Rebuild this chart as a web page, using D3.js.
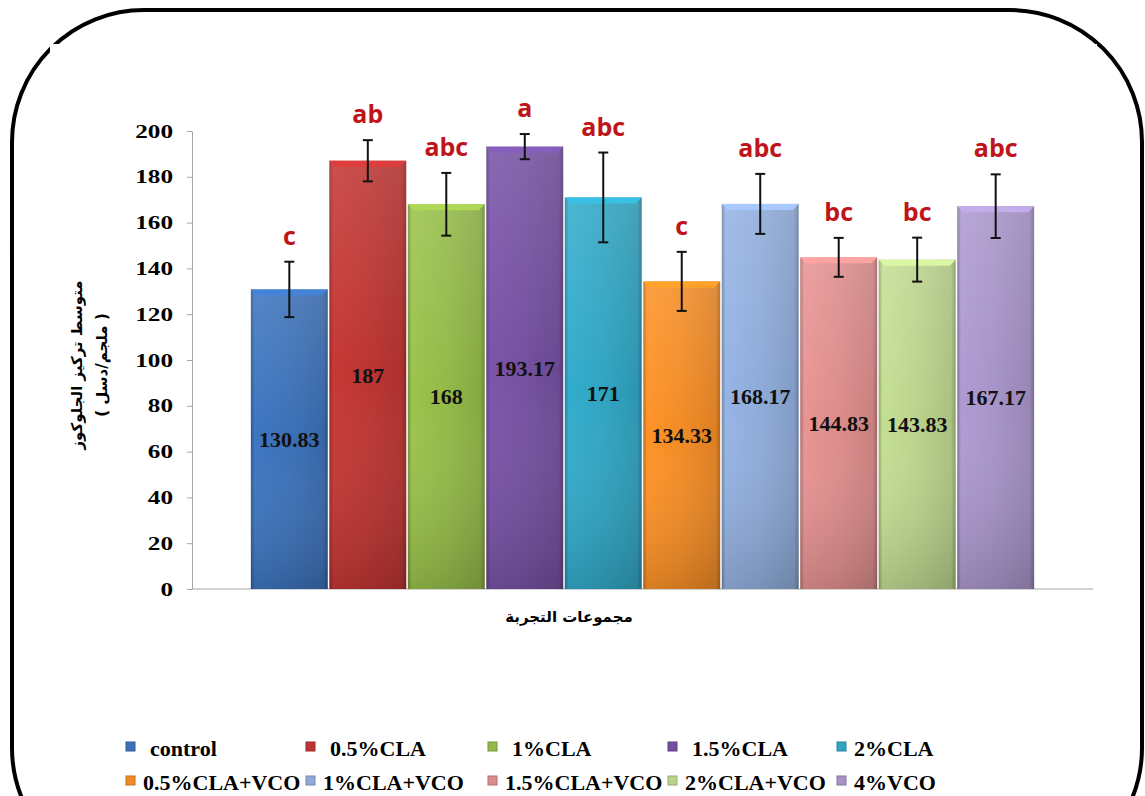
<html>
    <head>
        <meta charset='UTF-8'>
        <script src="https://d3js.org/d3.v7.min.js"></script>
        <style> body { margin: 0; background: #fff; } </style>
    </head>
    <body>
        <svg id="chart" width="1145" height="796"></svg>
        <script>
            //values
            const groups = ['control', '0.5%CLA', '1%CLA', '1.5%CLA', '2%CLA',
                            '0.5%CLA+VCO', '1%CLA+VCO', '1.5%CLA+VCO', '2%CLA+VCO', '4%VCO'];
            const means = [130.83, 187, 168, 193.17, 171, 134.33, 168.17, 144.83, 143.83, 167.17];
            const errors = [12.1, 9.0, 13.7, 5.5, 19.6, 12.9, 13.1, 8.5, 9.6, 13.9];
            const letters = ['c', 'ab', 'abc', 'a', 'abc', 'c', 'abc', 'bc', 'bc', 'abc'];
            const yTicks = [0, 20, 40, 60, 80, 100, 120, 140, 160, 180, 200];
            const yTitle = ['متوسط تركيز الجلوكوز', '( ملجم/دسل )'];
            const xTitle = 'مجموعات التجربة';

            //bar colours, one per group
            const palette = ['#3b70b7', '#bc3532', '#93b948', '#7450a0', '#30a4c2',
                             '#f28b25', '#8eabd9', '#dc8c8b', '#bad38c', '#a693c7'];

            let svg = d3.select('svg#chart');
            let margins = {top: 131, right: 1093, bottom: 589, left: 192};

            let color = d3.scaleOrdinal().domain(groups).range(palette);

            //frame: rounded border with the white chart area on top of it
            svg.append('rect')
               .attr('x', 12).attr('y', 10)
               .attr('width', 1130).attr('height', 870)
               .attr('rx', 132).attr('ry', 132)
               .attr('fill', 'none')
               .attr('stroke', '#000')
               .attr('stroke-width', 4);
            svg.append('rect')
               .attr('x', 50).attr('y', 44)
               .attr('width', 1047).attr('height', 760)
               .attr('fill', '#fff');

            //scales
            let x = d3.scaleBand()
                      .domain(groups)
                      .range([margins.left, margins.right])
                      .paddingInner(0.02)
                      .paddingOuter(0.75);
            let y = d3.scaleLinear()
                      .domain([0, 200])
                      .range([margins.bottom, margins.top]);

            //gradients for the bevelled bars
            let defs = svg.append('defs');
            groups.forEach((g, i) => {
                let c = d3.color(color(g));
                let grad = defs.append('linearGradient')
                               .attr('id', 'g' + i)
                               .attr('x1', '0').attr('x2', '1')
                               .attr('y1', '0').attr('y2', '0');
                grad.append('stop').attr('offset', '0%').attr('stop-color', c.darker(0.7));
                grad.append('stop').attr('offset', '5%').attr('stop-color', c.brighter(0.15));
                grad.append('stop').attr('offset', '50%').attr('stop-color', c);
                grad.append('stop').attr('offset', '94%').attr('stop-color', c.darker(0.25));
                grad.append('stop').attr('offset', '100%').attr('stop-color', c.darker(0.9));
            });
            let shade = defs.append('linearGradient')
                            .attr('id', 'shade')
                            .attr('x1', '0').attr('x2', '0')
                            .attr('y1', '0').attr('y2', '1');
            shade.append('stop').attr('offset', '0%').attr('stop-color', '#fff').attr('stop-opacity', 0.12);
            shade.append('stop').attr('offset', '50%').attr('stop-color', '#fff').attr('stop-opacity', 0);
            shade.append('stop').attr('offset', '100%').attr('stop-color', '#000').attr('stop-opacity', 0.15);

            //y axis
            let yAxis = svg.append('g')
                           .attr('transform', `translate(${margins.left},0)`)
                           .call(d3.axisLeft(y).tickValues(yTicks).tickSize(5).tickSizeOuter(0).tickPadding(14));
            yAxis.selectAll('path, line').attr('stroke', '#a6a6a6');
            yAxis.selectAll('text')
                 .attr('font-family', '"Liberation Serif", "Times New Roman", serif')
                 .attr('font-weight', 'bold')
                 .attr('font-size', 19)
                 .attr('fill', '#000')
                 .attr('textLength', d => String(d).length * 12.6)
                 .attr('lengthAdjust', 'spacingAndGlyphs');

            //x axis baseline
            svg.append('line')
               .attr('x1', x.range()[0]).attr('x2', x.range()[1])
               .attr('y1', y(0)).attr('y2', y(0))
               .attr('stroke', '#a6a6a6')
               .attr('stroke-width', 1);

            //bars
            let bars = svg.append('g');
            groups.forEach((g, i) => {
                let bx = x(g), bw = x.bandwidth(), top = y(means[i]), h = y(0) - y(means[i]);
                bars.append('rect')
                    .attr('x', bx).attr('y', top)
                    .attr('width', bw).attr('height', h)
                    .attr('fill', `url(#g${i})`);
                bars.append('rect')
                    .attr('x', bx).attr('y', top)
                    .attr('width', bw).attr('height', h)
                    .attr('fill', 'url(#shade)');
                //top bevel
                bars.append('path')
                    .attr('d', `M${bx},${top}L${bx + bw},${top}L${bx + bw - 6},${top + 6}L${bx + 6},${top + 6}Z`)
                    .attr('fill', d3.color(color(g)).brighter(0.45));
            });

            //error bars
            groups.forEach((g, i) => {
                let cx = x(g) + x.bandwidth() / 2;
                let eg = svg.append('g').attr('stroke', '#111').attr('stroke-width', 2);
                eg.append('line')
                  .attr('x1', cx).attr('x2', cx)
                  .attr('y1', y(means[i] + errors[i])).attr('y2', y(means[i] - errors[i]));
                eg.append('line')
                  .attr('x1', cx - 5).attr('x2', cx + 5)
                  .attr('y1', y(means[i] + errors[i])).attr('y2', y(means[i] + errors[i]));
                eg.append('line')
                  .attr('x1', cx - 5).attr('x2', cx + 5)
                  .attr('y1', y(means[i] - errors[i])).attr('y2', y(means[i] - errors[i]));
            });

            //value labels in the middle of each bar
            groups.forEach((g, i) => {
                svg.append('text')
                   .attr('x', x(g) + x.bandwidth() / 2)
                   .attr('y', (y(0) + y(means[i])) / 2)
                   .attr('dy', '0.35em')
                   .attr('text-anchor', 'middle')
                   .attr('font-family', '"Liberation Serif", "Times New Roman", serif')
                   .attr('font-weight', 'bold')
                   .attr('font-size', 22)
                   .attr('fill', '#111')
                   .text(means[i]);
            });

            //significance letters above the error bars
            groups.forEach((g, i) => {
                svg.append('text')
                   .attr('x', x(g) + x.bandwidth() / 2)
                   .attr('y', y(means[i] + errors[i]) - 17)
                   .attr('text-anchor', 'middle')
                   .attr('font-family', '"Open Sans", sans-serif')
                   .attr('font-weight', 'bold')
                   .attr('font-size', 25)
                   .attr('fill', '#c0141b')
                   .text(letters[i]);
            });

            //axis titles
            yTitle.forEach((t, i) => {
                svg.append('text')
                   .attr('transform', `translate(${77 + i * 25},365) rotate(-90)`)
                   .attr('text-anchor', 'middle')
                   .attr('dy', '0.35em')
                   .attr('font-family', '"DejaVu Sans", sans-serif')
                   .attr('font-weight', 'bold')
                   .attr('font-size', 15)
                   .attr('fill', '#000')
                   .text(t);
            });
            svg.append('text')
               .attr('x', 569).attr('y', 617)
               .attr('dy', '0.35em')
               .attr('text-anchor', 'middle')
               .attr('font-family', '"DejaVu Sans", sans-serif')
               .attr('font-weight', 'bold')
               .attr('font-size', 15)
               .attr('fill', '#000')
               .text(xTitle);

            //legend, two rows of five
            let legendCols = [126, 306, 488, 668, 837];
            let legend = svg.append('g');
            groups.forEach((g, i) => {
                let row = Math.floor(i / 5), col = i % 5;
                let lx = legendCols[col];
                let ly = 756 + row * 34;
                let c = d3.color(color(g));
                legend.append('rect')
                      .attr('x', lx).attr('y', ly - 14)
                      .attr('width', 9).attr('height', 9)
                      .attr('fill', c)
                      .attr('stroke', c.darker(0.6))
                      .attr('stroke-width', 1);
                legend.append('text')
                      .attr('x', lx + (row === 0 && col < 4 ? 24 : 17))
                      .attr('y', ly)
                      .attr('font-family', '"Liberation Serif", "Times New Roman", serif')
                      .attr('font-weight', 'bold')
                      .attr('font-size', 22)
                      .attr('fill', '#000')
                      .text(g);
            });
        </script>
    </body>
</html>
